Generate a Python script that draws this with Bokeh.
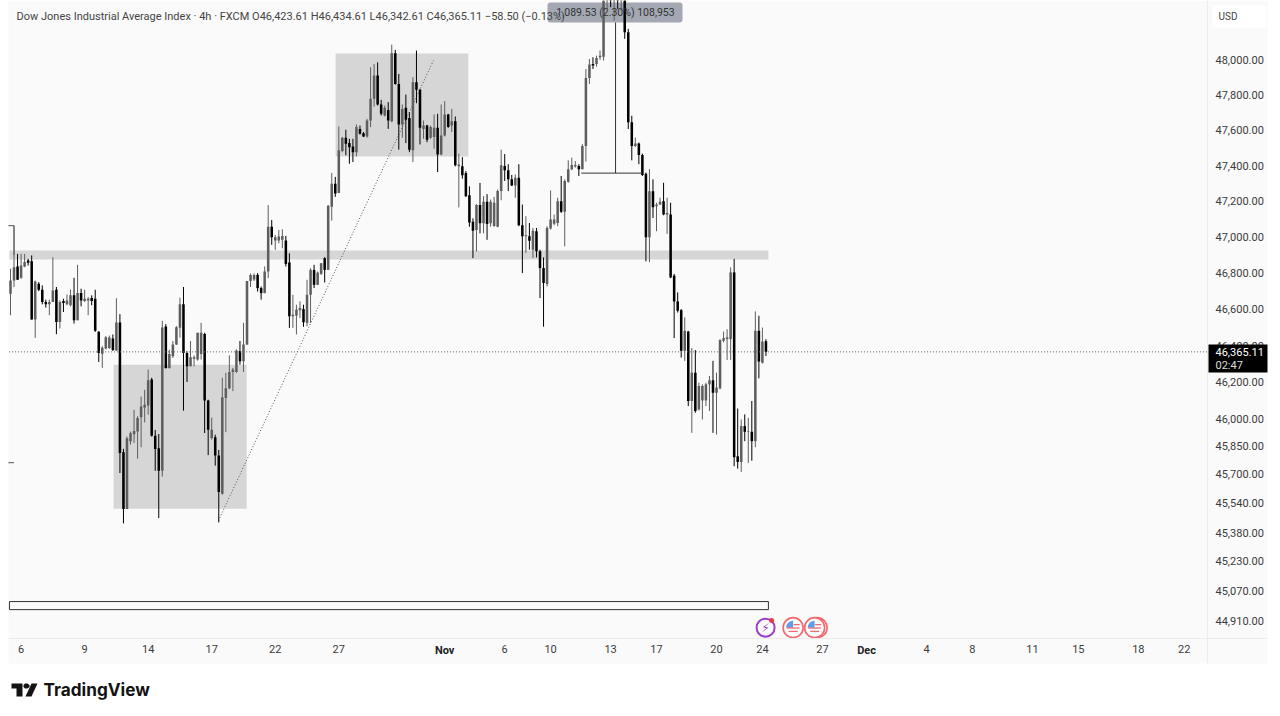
from bokeh.plotting import figure
from bokeh.models import (Range1d, FixedTicker, BoxAnnotation, Label, PolyAnnotation)
from bokeh.core.properties import value
from bokeh.embed import file_html
from bokeh.resources import INLINE

open_ = [46686,46759,46837,46774,46837,46870,46866,46543,46741,46708,
46640,46627,46640,46708,46530,46645,46627,46622,46677,46539,
46690,46645,46649,46662,46658,46476,46355,46383,46386,46439,
46373,46527,45817,45510,45876,45915,45929,46007,46061,46072,
46214,45907,45838,45716,46505,46277,46341,46406,46498,46628,
46359,46286,46328,46323,46353,46464,46099,45894,45898,45799,
45592,46112,46165,46255,46255,46370,46314,46406,46756,46765,
46790,46717,46689,46809,47058,46981,46981,46985,46981,46859,
46561,46565,46594,46601,46525,46680,46818,46735,46796,46883,
46818,47170,47299,47247,47482,47557,47527,47508,47476,47607,
47583,47564,47654,47777,47909,47745,47682,47714,47650,48036,
47861,47632,47726,47669,47486,47871,47828,47607,47626,47557,
47561,47613,47463,47570,47688,47626,47650,47396,47396,47359,
47234,47086,47040,47179,47077,47197,47077,47062,47058,47258,
47398,47374,47323,47289,47332,47066,47005,47005,46930,47033,
46921,46828,46739,47048,47074,47079,47201,47141,47310,47380,
47395,47398,47380,47511,47895,47975,47975,48013,48016,48340,
48400,48350,48390,48360,48400,48156,47644,47511,47524,47460,
47355,46999,47257,47173,47182,47201,47126,47126,46786,46643,
46595,46371,46477,46096,46251,46050,46099,46099,46187,46209,
46141,46165,46426,46435,46435,46804,45795,45764,45959,45928,
45928,45877,46481,46306,46423.61]
high = [46824,47064,46907,46907,46907,46879,46898,46759,46750,46732,
46653,46653,46888,46723,46649,46658,46682,46708,46774,46846,
46714,46708,46667,46677,46708,46479,46397,46452,46455,46461,
46661,46573,45835,45902,45929,46048,46013,46120,46157,46268,
46223,45938,45916,46536,46518,46377,46425,46507,46664,46723,
46368,46425,46346,46470,46525,46470,46103,46005,45912,45829,
46223,46250,46346,46277,46379,46425,46525,46756,46798,46798,
46800,46726,46837,47179,47096,47012,47040,47044,47007,46910,
46680,46625,46644,46625,46763,46827,46846,46809,46855,46888,
47179,47359,47337,47621,47561,47602,47551,47551,47632,47626,
47589,47664,47956,47975,47984,47771,47739,47758,48085,48055,
47918,47745,47801,47701,47900,48051,47833,47654,47630,47626,
47688,47692,47745,47764,47692,47720,47677,47467,47448,47370,
47284,47105,47184,47303,47229,47240,47210,47225,47266,47490,
47465,47408,47348,47351,47408,47182,47117,47079,47051,47051,
46930,46887,47061,47261,47126,47220,47342,47323,47430,47445,
47426,47408,47521,47946,48003,48013,48022,48051,48420,48460,
48470,48440,48450,48440,48447,48175,47681,47558,47530,47468,
47361,47380,47323,47192,47220,47304,47220,47192,46795,46693,
46601,46555,46481,46386,46375,46196,46187,46196,46233,46316,
46251,46435,46477,46490,46832,46879,46055,45995,46023,46004,
46096,46588,46564,46499,46434.61]
low = [46567,46723,46763,46768,46833,46842,46543,46442,46700,46627,
46609,46567,46640,46462,46494,46585,46622,46616,46521,46539,
46616,46640,46567,46622,46475,46310,46277,46379,46381,46370,
46370,45704,45432,45510,45858,45867,45782,45844,45979,46021,
45902,45716,45461,45685,46273,46273,46332,46403,46443,46043,
46200,46286,46286,46317,46323,45921,45801,45885,45744,45437,
45587,45926,46160,46150,46250,46295,46255,46403,46723,46756,
46698,46653,46689,46772,46957,46929,46966,46938,46837,46497,
46497,46461,46552,46503,46506,46525,46717,46735,46790,46748,
46818,47092,47225,47247,47476,47458,47411,47420,47452,47575,
47561,47557,47617,47733,47739,47682,47677,47607,47645,47857,
47490,47557,47527,47476,47420,47752,47519,47551,47532,47551,
47495,47364,47458,47564,47613,47589,47396,47166,47327,47225,
47058,46883,46920,47021,47021,46985,47058,47058,47055,47206,
47314,47257,47286,47220,47061,46800,46912,46930,46884,46887,
46662,46504,46726,47042,47066,47061,47135,46949,47304,47374,
47389,47342,47380,47423,47861,47946,47960,47998,47994,48289,
48299,48222,48289,48280,48118,47606,47430,47505,47408,47342,
46865,46861,47107,47033,47179,47122,47018,46772,46441,46582,
46334,46316,46068,45922,46032,46044,45995,46068,46041,45922,
45913,46160,46417,46320,46320,45741,45728,45710,45877,45759,
45771,45844,46220,46301,46342.61]
close = [46759,46833,46763,46842,46861,46857,46543,46753,46708,46640,
46627,46640,46704,46530,46640,46634,46649,46677,46539,46690,
46649,46658,46658,46645,46481,46359,46388,46446,46444,46375,
46527,45812,45510,45893,45920,45932,46003,46066,46075,46210,
45906,45835,45716,46499,46277,46353,46406,46501,46628,46359,
46286,46335,46335,46470,46470,46098,45939,45939,45799,45601,
46116,46165,46255,46268,46373,46314,46406,46756,46790,46790,
46717,46689,46809,47058,46999,46999,47003,47007,46851,46561,
46570,46598,46607,46528,46680,46818,46735,46803,46855,46818,
47175,47299,47244,47486,47557,47523,47504,47476,47617,47579,
47564,47654,47777,47909,47745,47692,47726,47654,48036,47861,
47632,47720,47658,47490,47871,47828,47613,47626,47545,47617,
47613,47463,47570,47688,47617,47650,47402,47407,47346,47229,
47081,47036,47179,47077,47197,47073,47197,47192,47258,47402,
47374,47323,47289,47332,47066,47005,47010,46980,47036,46921,
46828,46745,47051,47098,47098,47201,47141,47314,47380,47404,
47404,47380,47511,47895,47971,47966,48009,48022,48380,48400,
48350,48390,48360,48410,48156,47644,47511,47524,47460,47348,
46999,47257,47167,47182,47197,47126,47135,46776,46643,46592,
46371,46481,46096,46251,46041,46178,46178,46187,46209,46141,
46169,46430,46441,46445,46804,45790,45764,45959,45928,45931,
45877,46481,46312,46422,46365.11]

price_ticks = [48000,47800,47600,47400,47200,47000,46800,46600,46400,46200,46000,45850,45700,45540,45380,45230,45070,44910]
time_ticks = [3,21,39,57,75,93,123,140,153,170,183,200,213,230,242.5,259.5,272.5,289.5,302.5,319.5,332.5]
time_labels = ["6","9","14","17","22","27","","6","10","13","17","20","24","27","","4","8","11","15","18","22"]
month_ticks = [123,242.5]
month_labels = ["Nov","Dec"]

zone_left = [29.2,92.1,-0.3]
zone_right = [66.9,129.7,214.7]
zone_top = [46295,48034,46925]
zone_bottom = [45511,47452,46876]

last_price = 46365.11
trend_x = [58.9,119.8]
trend_y = [45447,47994]
measure_base = 47358
measure_top = 48211
measure_left, measure_mid, measure_right = 161.7, 171.4, 179.2

FONT = "Roboto"
W, H = 1272, 708
PRICE_AXIS_X = 339.09
TIME_AXIS_Y = 44816
p = figure(width=W, height=H, output_backend="svg", toolbar_location=None,
           y_axis_type="log", y_axis_location="right",
           x_range=Range1d(-2.833, 357.5), y_range=Range1d(44446, 48337),
           min_border_left=0, min_border_top=0, min_border_right=0, min_border_bottom=0,
           background_fill_color="#ffffff", border_fill_color="#ffffff",
           outline_line_color=None)
p.grid.visible = False

ax = p.yaxis[0]
ax.fixed_location = PRICE_AXIS_X
ax.bounds = (44684, 48337)
ax.ticker = FixedTicker(ticks=price_ticks)
ax.major_label_overrides = {t: f"{t:,.2f}" for t in price_ticks}
ax.major_label_text_font = FONT
ax.major_label_text_font_size = "11px"
ax.major_label_text_color = "#3c3c3c"
ax.major_tick_line_color = None
ax.minor_tick_line_color = None
ax.major_tick_out = 0
ax.major_label_standoff = 8
ax.axis_line_color = "#ececec"

bx = p.xaxis[0]
bx.fixed_location = TIME_AXIS_Y
bx.bounds = (-0.57, 356.09)
bx.ticker = FixedTicker(ticks=time_ticks)
bx.major_label_overrides = dict(zip(time_ticks, time_labels))
bx.major_label_text_font = FONT
bx.major_label_text_font_size = "11px"
bx.major_label_text_color = "#3c3c3c"
bx.major_tick_line_color = None
bx.minor_tick_line_color = None
bx.major_tick_out = 0
bx.major_label_standoff = 6
bx.axis_line_color = "#ececec"


def canvas_box(l, r, t, b, level="overlay", **kw):
    return BoxAnnotation(left=l, right=r, top=t, bottom=b, level=level,
                         left_units="canvas", right_units="canvas", top_units="canvas", bottom_units="canvas", **kw)


def text(x, y, s, size, color, font=FONT, style="normal", align="left"):
    p.add_layout(Label(x=x, y=y, x_units="canvas", y_units="canvas", text=s, text_font=font, level="overlay",
                       text_font_size=f"{size}px", text_color=color, text_font_style=style,
                       text_align=align, text_baseline="middle", border_line_color=None, background_fill_color=None))


# chart block background and measure tooltip sit under the candles
p.add_layout(canvas_box(8, 1267, 0, 663, level="image", fill_color="#fafafa", fill_alpha=1, line_color=None))
p.add_layout(canvas_box(547, 682, 2, 22, level="underlay", fill_color="#a3a8b3", fill_alpha=1, line_color=None, border_radius=3))

# zones, band, outlined strip
p.quad(left=zone_left, right=zone_right, top=zone_top, bottom=zone_bottom,
       fill_color="#d6d6d6", line_color=None)
p.quad(left=[-0.3], right=[214.7], top=[45013], bottom=[44970], fill_color=None, line_color="#333333", line_width=1)

# trend line and stub marks
p.line(trend_x, trend_y, line_color="#555555", line_width=1, line_dash="1 2")
p.segment([-0.6, 1], [47064, 47064], [1, 1], [47064, 46900], line_color="#555555", line_width=1)
p.segment([-0.6], [45760], [1], [45760], line_color="#555555", line_width=1)

# candles
idx = list(range(len(close)))
up = [c >= o for o, c in zip(open_, close)]
cols = ["#5e5e5e" if u else "#000000" for u in up]
tops = [max(o, c) for o, c in zip(open_, close)]
bots = [min(o, c) for o, c in zip(open_, close)]
p.segment(idx, high, idx, low, line_color=cols, line_width=1)
p.vbar(x=idx, top=tops, bottom=bots, width=0.72, fill_color=cols, line_color=None)

# measure tool
p.segment([measure_left, measure_mid], [measure_base, measure_base],
          [measure_right, measure_mid], [measure_base, measure_top], line_color="#333333", line_width=1)

# last price line
p.line([-0.4, PRICE_AXIS_X], [last_price, last_price], line_color="#666666", line_width=1, line_dash="1 2")

# event icons
ev_y = 44874
p.scatter([213.9], [ev_y], size=18, fill_color="#fafafa", line_color="#9c3fc9", line_width=2)
p.text([213.9], [ev_y], text=["⚡"], text_font=value("DejaVu Sans"), text_font_size="12px", text_color="#9c3fc9",
       text_align="center", text_baseline="middle")
p.scatter([215.6], [44912], size=5, fill_color="#e8364b", line_color=None)
for cx in [228.5, 221.7, 227.8]:
    p.scatter([cx], [ev_y], size=20, fill_color="#fafafa", line_color="#f1686f", line_width=1.6)
    p.scatter([cx], [ev_y], size=15, fill_color="#ffffff", line_color=None)
    p.wedge([cx], [ev_y], radius=7, radius_units="screen", start_angle=1.57, end_angle=3.14,
            fill_color="#5f9fe8", line_color=None)
    p.scatter([cx + 1], [ev_y + 16], size=6, marker="dash", line_color="#ef6a70", line_width=1.3, fill_color=None)
    p.scatter([cx], [ev_y - 2], size=13, marker="dash", line_color="#ef6a70", line_width=1.3, fill_color=None)
    p.scatter([cx], [ev_y - 20], size=9, marker="dash", line_color="#ef6a70", line_width=1.3, fill_color=None)

# tooltip text
text(615, 12, "1,089.53 (2.30%) 108,953", 10.5, "#333333", align="center")

# header
text(16, 16, "Dow Jones Industrial Average Index · 4h · FXCM  O46,423.61  H46,434.61  L46,342.61  C46,365.11  −58.50 (−0.13%)",
     11, "#444444")

# USD box
p.add_layout(canvas_box(1212, 1265, 5, 27, fill_color="#ffffff", fill_alpha=1, line_color=None, border_radius=2))
text(1218, 16, "USD", 10, "#444444")

# last price tag
p.add_layout(canvas_box(1208, 1267, 344, 372, fill_color="#000000", fill_alpha=1, line_color=None))
text(1215, 351, "46,365.11", 11, "#ffffff")
text(1215, 365, "02:47", 11, "#dddddd")

# month labels
for t, s in zip(month_ticks, month_labels):
    p.add_layout(Label(x=t, y=650, x_units="data", y_units="canvas", text=s, text_font=FONT, text_font_size="11px", level="overlay",
                       text_font_style="bold", text_color="#222222", text_align="center", text_baseline="middle"))

# logo
for xs, ys in [([11, 22, 22, 16, 16, 11], [683, 683, 696, 696, 688, 688]),
               ([31, 37, 31, 25], [683, 683, 696, 696]),
               ([24.5, 27, 29, 29, 27, 24.5, 23, 23], [683, 683, 684.5, 686.5, 688, 688, 686.5, 684.5])]:
    p.add_layout(PolyAnnotation(xs=xs, ys=ys, xs_units="canvas", ys_units="canvas", level="overlay",
                                fill_color="#131313", fill_alpha=1, line_color=None))
text(43, 689, "TradingView", 17.2, "#131313", font="Inter", style="bold")

open("out.html", "w").write(file_html(p, INLINE))
